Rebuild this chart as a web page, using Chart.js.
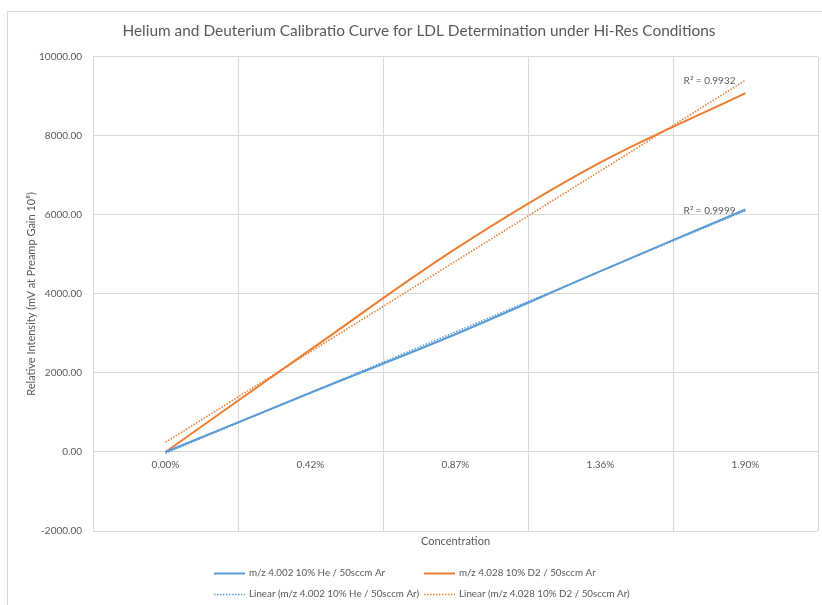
<!DOCTYPE html>
<html>
<head>
<meta charset="utf-8">
<script src="https://cdn.jsdelivr.net/npm/chart.js@4"></script>
<style>
  html, body { margin: 0; padding: 0; background: #fff; }
  #wrap { width: 822px; height: 605px; position: relative; }
</style>
</head>
<body>
<div id="wrap"><canvas id="chart"></canvas></div>
<script>
// ── Helium / Deuterium calibration curve ──

const concentrations = ['0.00%', '0.42%', '0.87%', '1.36%', '1.90%'];
const heliumIntensity = [0, 1500, 2980, 4580, 6140];
const deuteriumIntensity = [0, 2590, 5140, 7330, 9085];
const seriesNames = ['m/z 4.002 10% He / 50sccm Ar', 'm/z 4.028 10% D2 / 50sccm Ar'];
const rSquaredLabels = ['R² = 0.9999', 'R² = 0.9932'];

const BLUE = '#5b9bd5';
const ORANGE = '#ed7d31';
const TEXT = '#595959';
const GRID = '#d9d9d9';
const FONT = 'Lato, "Open Sans", sans-serif';

// Excel-style linear trendline: least squares over category index 1..n
function linearTrend(values) {
  const xs = values.map((_, i) => i + 1);
  const n = xs.length;
  const mx = xs.reduce((a, b) => a + b, 0) / n;
  const my = values.reduce((a, b) => a + b, 0) / n;
  let num = 0, den = 0;
  xs.forEach((x, i) => { num += (x - mx) * (values[i] - my); den += (x - mx) * (x - mx); });
  const slope = num / den;
  return xs.map(x => my + slope * (x - mx));
}

const dotted = { borderDash: [1.5, 1.5], borderWidth: 1.6, borderCapStyle: 'butt', tension: 0, order: 0 };

const datasets = [
  { label: seriesNames[0], data: heliumIntensity, borderColor: BLUE, borderWidth: 2, tension: 0.35, order: 1 },
  { label: seriesNames[1], data: deuteriumIntensity, borderColor: ORANGE, borderWidth: 2, tension: 0.35, order: 1 },
  Object.assign({ label: 'Linear (' + seriesNames[0] + ')', data: linearTrend(heliumIntensity), borderColor: BLUE, r2: rSquaredLabels[0] }, dotted),
  Object.assign({ label: 'Linear (' + seriesNames[1] + ')', data: linearTrend(deuteriumIntensity), borderColor: ORANGE, r2: rSquaredLabels[1] }, dotted)
];
datasets.forEach(d => { d.pointRadius = 0; d.fill = false; });

// chart border, x title, R² labels and the two-column legend
const excelDecor = {
  id: 'excelDecor',
  beforeDraw(chart) {
    const ctx = chart.ctx;
    ctx.save();
    ctx.strokeStyle = GRID;
    ctx.lineWidth = 1;
    ctx.strokeRect(7.5, 11.5, 830, 700);
    ctx.restore();
  },
  afterDraw(chart) {
    const ctx = chart.ctx;
    const area = chart.chartArea;
    const xs = chart.scales.x, ys = chart.scales.y;
    ctx.save();
    ctx.fillStyle = TEXT;
    ctx.font = '11px ' + FONT;
    ctx.textAlign = 'center';
    ctx.textBaseline = 'middle';
    ctx.fillText('Concentration', (area.left + area.right) / 2, 541);

    // R² next to the trendline ends
    ctx.font = '10px ' + FONT;
    ctx.textAlign = 'right';
    chart.data.datasets.forEach(d => {
      if (!d.r2) return;
      const last = d.data.length - 1;
      ctx.fillText(d.r2, xs.getPixelForValue(last) - 10, ys.getPixelForValue(d.data[last]) + 0.5);
    });

    // legend
    const cols = [214, 424], rows = [573, 594];
    ctx.textAlign = 'left';
    ctx.font = '9.8px ' + FONT;
    chart.data.datasets.forEach((d, i) => {
      const x = cols[i % 2], y = rows[Math.floor(i / 2)];
      ctx.beginPath();
      ctx.strokeStyle = d.borderColor;
      ctx.lineWidth = d.borderDash ? 1.6 : 2;
      ctx.setLineDash(d.borderDash || []);
      ctx.moveTo(x, y + 0.5);
      ctx.lineTo(x + 31, y + 0.5);
      ctx.stroke();
      ctx.setLineDash([]);
      ctx.fillStyle = TEXT;
      ctx.fillText(d.label, x + 35, y);
    });
    ctx.restore();
  }
};

new Chart(document.getElementById('chart'), {
  type: 'line',
  data: { labels: concentrations, datasets },
  options: {
    responsive: true, maintainAspectRatio: false,
    animation: false,
    layout: { padding: { left: 20, top: 0, right: 4, bottom: 74 } },
    plugins: {
      legend: { display: false },
      tooltip: { enabled: false },
      title: {
        display: true,
        text: 'Helium and Deuterium Calibratio Curve for LDL Determination under Hi-Res Conditions',
        color: TEXT,
        font: { family: FONT, size: 15.4, weight: 'normal' },
        padding: { top: 21.5, bottom: 17 }
      }
    },
    scales: {
      x: {
        type: 'category',
        position: { y: 0 },
        offset: true,
        afterFit: s => { s.height = 0; },
        grid: { offset: true, color: GRID, drawTicks: false },
        border: { color: GRID },
        ticks: { color: TEXT, font: { family: FONT, size: 10 }, padding: 7, maxRotation: 0 }
      },
      y: {
        min: -2000, max: 10000,
        afterFit: s => { s.width = 73; },
        grid: { color: GRID, drawTicks: false },
        border: { color: GRID },
        ticks: {
          stepSize: 2000, padding: 11, color: TEXT,
          font: { family: FONT, size: 10 },
          callback: v => v.toFixed(2)
        },
        title: {
          display: true,
          text: 'Relative Intensity (mV at Preamp Gain 10⁸)',
          color: TEXT,
          font: { family: FONT, size: 11 },
          padding: { top: 4.4, bottom: 0 }
        }
      }
    }
  },
  plugins: [excelDecor]
});
</script>
</body>
</html>
